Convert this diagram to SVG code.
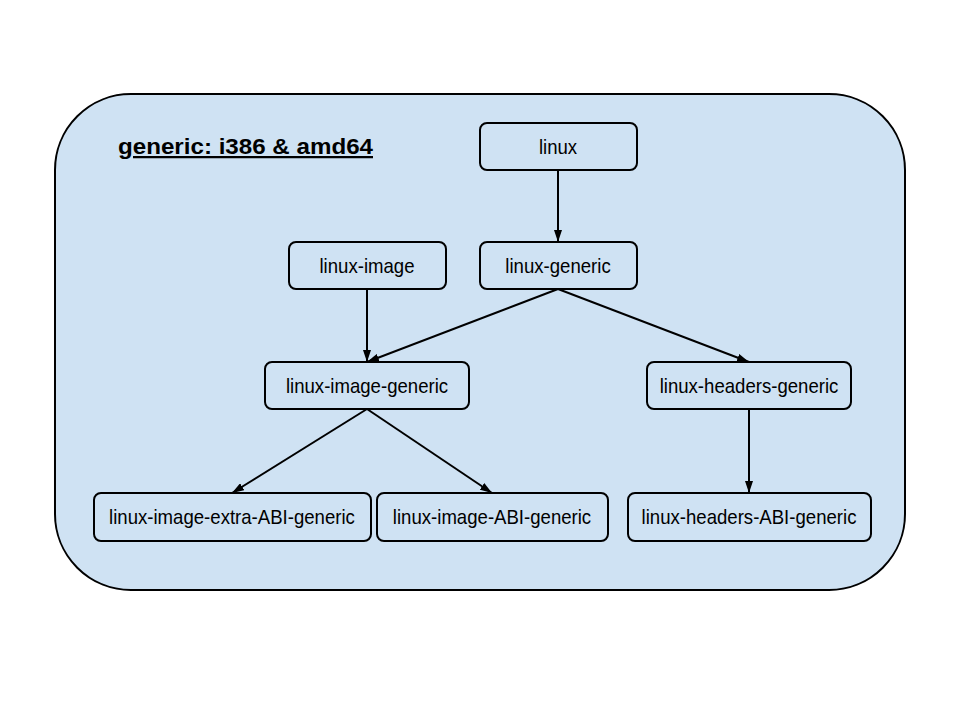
<svg xmlns="http://www.w3.org/2000/svg" width="960" height="720" viewBox="0 0 960 720">
<style>
.box{fill:#cfe2f3;stroke:#000;stroke-width:2}
.lbl{font-family:"Liberation Sans",Arial,sans-serif;font-size:20px;text-anchor:middle;fill:#000}
.edge{stroke:#000;stroke-width:2;fill:none;marker-end:url(#arr)}
</style>
<defs>
<marker id="arr" viewBox="0 0 12 8" refX="12" refY="4" markerWidth="6" markerHeight="4" orient="auto" markerUnits="strokeWidth">
<path d="M0,0 L12,4 L0,8 z" fill="#000"/>
</marker>
</defs>
<rect width="960" height="720" fill="#fff"/>
<g id="container">
<rect x="55" y="94" width="850" height="496" rx="76" ry="76" class="box"/>
<text x="118" y="154" font-family="Liberation Sans,Arial,sans-serif" font-size="22.5" font-weight="bold" text-decoration="underline" textLength="255" lengthAdjust="spacingAndGlyphs" fill="#000">generic: i386 &amp; amd64</text>
</g>
<g id="connectors">
<line x1="558" y1="170" x2="558" y2="242" class="edge"/>
<line x1="367" y1="289" x2="367" y2="362" class="edge"/>
<line x1="558" y1="289" x2="367" y2="362" class="edge"/>
<line x1="558" y1="289" x2="749" y2="362" class="edge"/>
<line x1="367" y1="409" x2="232" y2="493" class="edge"/>
<line x1="367" y1="409" x2="492" y2="493" class="edge"/>
<line x1="749" y1="409" x2="749" y2="493" class="edge"/>
</g>
<g id="linux"><rect x="480" y="123" width="157" height="47" rx="7" class="box"/><text transform="translate(558,154) scale(0.93,1)" class="lbl">linux</text></g>
<g id="linux-image"><rect x="289" y="242" width="157" height="47" rx="7" class="box"/><text transform="translate(367,273) scale(0.93,1)" class="lbl">linux-image</text></g>
<g id="linux-generic"><rect x="480" y="242" width="157" height="47" rx="7" class="box"/><text transform="translate(558,273) scale(0.93,1)" class="lbl">linux-generic</text></g>
<g id="linux-image-generic"><rect x="265" y="362" width="204" height="47" rx="7" class="box"/><text transform="translate(367,393) scale(0.93,1)" class="lbl">linux-image-generic</text></g>
<g id="linux-headers-generic"><rect x="647" y="362" width="204" height="47" rx="7" class="box"/><text transform="translate(749,393) scale(0.93,1)" class="lbl">linux-headers-generic</text></g>
<g id="linux-image-extra-ABI-generic"><rect x="94" y="493" width="277" height="48" rx="7" class="box"/><text transform="translate(232,524) scale(0.93,1)" class="lbl">linux-image-extra-ABI-generic</text></g>
<g id="linux-image-ABI-generic"><rect x="377" y="493" width="231" height="48" rx="7" class="box"/><text transform="translate(492,524) scale(0.93,1)" class="lbl">linux-image-ABI-generic</text></g>
<g id="linux-headers-ABI-generic"><rect x="628" y="493" width="243" height="48" rx="7" class="box"/><text transform="translate(749,524) scale(0.93,1)" class="lbl">linux-headers-ABI-generic</text></g>
</svg>
